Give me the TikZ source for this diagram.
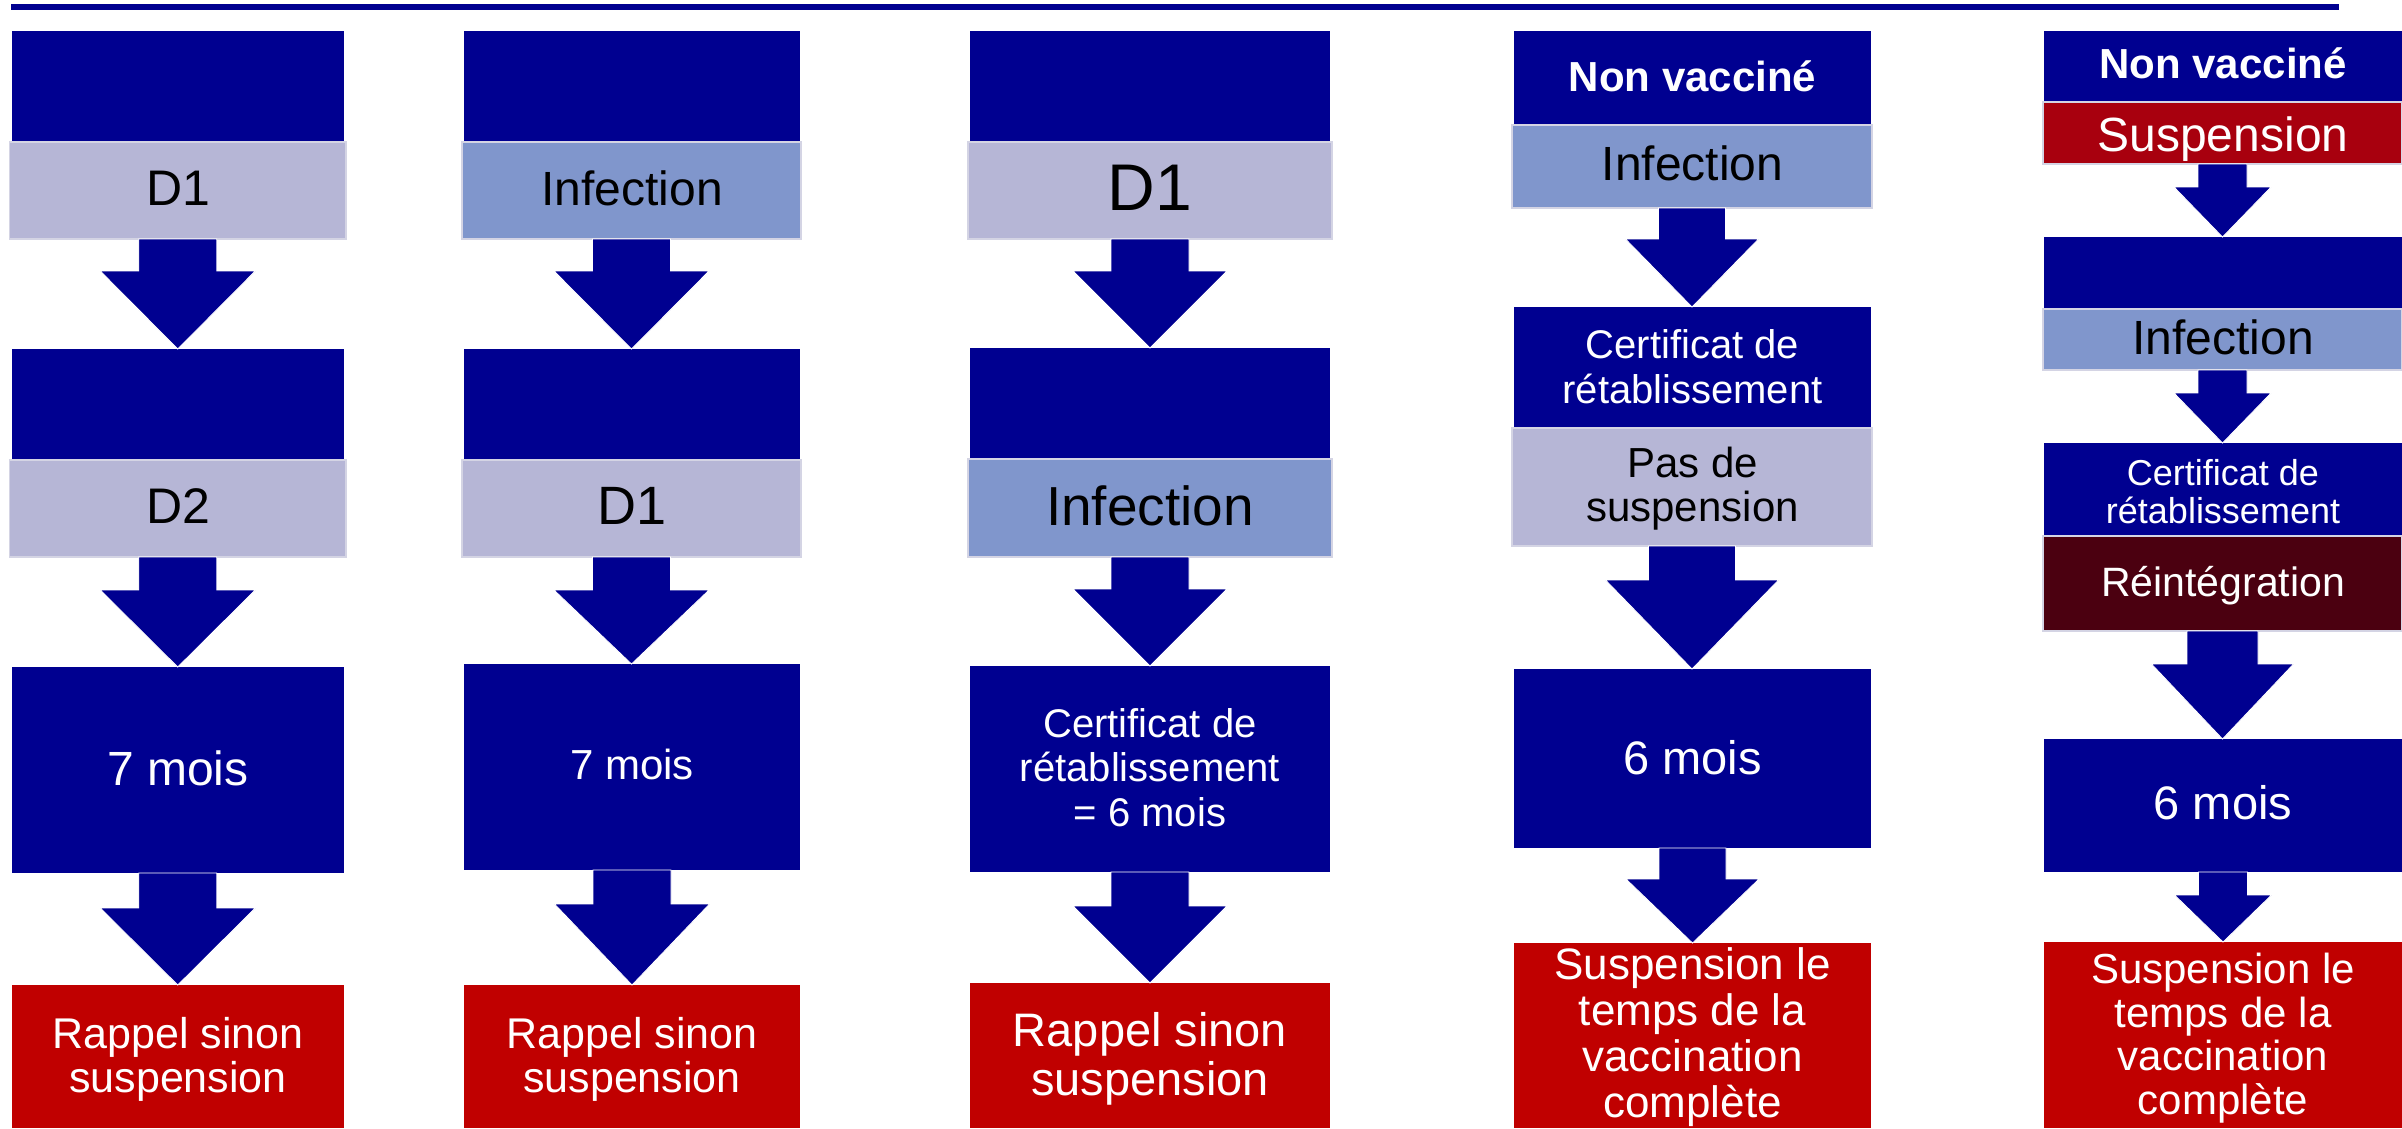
\documentclass[tikz,border=0pt]{standalone}
\usepackage{fontspec}
\setmainfont{Liberation Sans}
\usetikzlibrary{calc}
\definecolor{navy}{RGB}{0,0,144}
\definecolor{lav}{RGB}{182,182,214}
\definecolor{infb}{RGB}{128,150,204}
\definecolor{redA}{RGB}{192,0,0}
\definecolor{redB}{RGB}{168,0,14}
\definecolor{reint}{RGB}{75,0,16}
\definecolor{edgec}{RGB}{212,212,228}
\tikzset{
  dk/.style={fill=navy},
  lv/.style={fill=lav, draw=edgec, line width=1.5pt},
  inf/.style={fill=infb, draw=edgec, line width=1.5pt},
  rd/.style={fill=redA},
  rdb/.style={fill=redB, draw=edgec, line width=1.5pt},
  rei/.style={fill=reint, draw=edgec, line width=1.5pt},
  tx/.style={inner sep=0pt, outer sep=0pt, align=center},
  wt/.style={tx, text=white},
  bk/.style={tx, text=black},
  arrowfill/.style={fill=navy, draw=white, line width=0.8pt, line join=miter}
}
% box: style, name, x1, y1, x2, y2 (pixels, y downward)
\newcommand\bx[6]{\node[#1, anchor=north west, inner sep=0pt, outer sep=0pt,
  minimum width={#5-#3}, minimum height={#6-#4}] (#2) at (#3,-#4) {};}
% block arrow: from node, to node, half shaft, half head, head length
\newcommand\barr[5]{\path[arrowfill] let \p1=(#1.south), \p2=(#2.north) in
  (\x1-#3pt,\y1) -- (\x1+#3pt,\y1) -- (\x1+#3pt,\y2+#5pt) -- (\x1+#4pt,\y2+#5pt)
  -- (\x1,\y2) -- (\x1-#4pt,\y2+#5pt) -- (\x1-#3pt,\y2+#5pt) -- cycle;}
\newcommand\fs[2]{\fontsize{#1}{#2}\selectfont}
\begin{document}
\begin{tikzpicture}[x=1pt,y=1pt]
\useasboundingbox (0,0) rectangle (2402,-1128);
\fill[white] (0,0) rectangle (2402,-1128);
% top rule
\coordinate (tl) at (11,-6.5);
\coordinate (tr) at (2339,-6.5);
\draw[navy, line width=6pt] (tl) -- (tr);

% ---------- column 1 ----------
\bx{dk}{a1}{11.5}{31}{344}{141}
\bx{lv}{a2}{9.5}{142}{346}{239}
\bx{dk}{a3}{11.5}{349}{344}{459}
\bx{lv}{a4}{9.5}{460}{346}{557}
\bx{dk}{a5}{11.5}{667}{344}{873}
\bx{rd}{a6}{11.5}{985}{344}{1128}
\barr{a2}{a3}{39}{77.5}{78}
\barr{a4}{a5}{39}{77.5}{77}
\barr{a5}{a6}{39}{77.5}{77}
\node[bk, font=\fs{50}{55}, anchor=base] (ta2) at (178,-205) {D1};
\node[bk, font=\fs{50}{55}, anchor=base] (ta4) at (178,-523) {D2};
\node[wt, font=\fs{48}{53}, anchor=base] (ta5) at (178,-785) {7 mois};
\node[wt, font=\fs{43}{44}, anchor=north] (ta6) at (178,-1017.6) {Rappel sinon\\suspension};

% ---------- column 2 ----------
\bx{dk}{b1}{464}{31}{800}{141}
\bx{inf}{b2}{462}{142}{801}{239}
\bx{dk}{b3}{464}{349}{800}{459}
\bx{lv}{b4}{462}{460}{801}{557}
\bx{dk}{b5}{464}{664}{800}{870}
\bx{rd}{b6}{464}{985}{800}{1128}
\barr{b2}{b3}{39}{77.5}{78}
\barr{b4}{b5}{39}{77.5}{74}
\barr{b5}{b6}{39}{77.5}{81}
\node[bk, font=\fs{48}{53}, anchor=base] (tb2) at (632,-205) {Infection};
\node[bk, font=\fs{54}{59}, anchor=base] (tb4) at (632,-524) {D1};
\node[wt, font=\fs{42}{46}, anchor=base] (tb5) at (632,-779) {7 mois};
\node[wt, font=\fs{43}{44}, anchor=north] (tb6) at (632,-1017.6) {Rappel sinon\\suspension};

% ---------- column 3 ----------
\bx{dk}{c1}{970}{31}{1330}{141}
\bx{lv}{c2}{968}{142}{1332}{239}
\bx{dk}{c3}{970}{348}{1330}{459}
\bx{inf}{c4}{968}{459}{1332}{557}
\bx{dk}{c5}{970}{666}{1330}{872}
\bx{rd}{c6}{970}{983}{1330}{1128}
\barr{c2}{c3}{39}{77}{77}
\barr{c4}{c5}{39}{77}{77}
\barr{c5}{c6}{39}{77}{77}
\node[bk, font=\fs{66}{72}, anchor=base] (tc2) at (1150,-210) {D1};
\node[bk, font=\fs{55}{60}, anchor=base] (tc4) at (1150,-525) {Infection};
\node[wt, font=\fs{40}{44.5}, anchor=north] (tc5) at (1150,-708.3) {Certificat de\\rétablissement\\= 6 mois};
\node[wt, font=\fs{47}{49}, anchor=north] (tc6) at (1150,-1012.7) {Rappel sinon\\suspension};

% ---------- column 4 ----------
\bx{dk}{d1}{1514}{31}{1871}{124}
\bx{inf}{d2}{1512}{125}{1872}{208}
\bx{dk}{d3}{1514}{307}{1871}{428}
\bx{lv}{d4}{1512}{428}{1872}{546}
\bx{dk}{d5}{1514}{669}{1871}{848}
\bx{rd}{d6}{1514}{943}{1871}{1128}
\barr{d2}{d3}{33.5}{66.5}{68}
\barr{d4}{d5}{43.5}{86.5}{89}
\barr{d5}{d6}{33.5}{66.5}{64}
\node[wt, font=\fs{42}{46}\bfseries, anchor=base] (td1) at (1692.5,-91) {Non vacciné};
\node[bk, font=\fs{48}{53}, anchor=base] (td2) at (1692.5,-180) {Infection};
\node[wt, font=\fs{40}{45}, anchor=north] (td3) at (1692.5,-329.8) {Certificat de\\rétablissement};
\node[bk, font=\fs{42}{44}, anchor=north] (td4) at (1692.5,-447.3) {Pas de\\suspension};
\node[wt, font=\fs{47}{52}, anchor=base] (td5) at (1692.5,-774) {6 mois};
\node[wt, font=\fs{44}{46}, anchor=north] (td6) at (1692.5,-947.9) {Suspension le\\temps de la\\vaccination\\complète};

% ---------- column 5 ----------
\bx{dk}{e1}{2044}{31}{2402}{102}
\bx{rdb}{e2}{2043}{102}{2402}{164}
\bx{dk}{e3}{2044}{237}{2402}{308}
\bx{inf}{e4}{2043}{309}{2402}{370}
\bx{dk}{e5}{2044}{443}{2402}{536}
\bx{rei}{e6}{2043}{536}{2402}{631}
\bx{dk}{e7}{2044}{739}{2402}{872}
\bx{rd}{e8}{2044}{942}{2402}{1128}
\barr{e2}{e3}{24.5}{48.5}{50}
\barr{e4}{e5}{24.5}{48.5}{50}
\barr{e6}{e7}{35.5}{71}{75}
\barr{e7}{e8}{24.5}{48.5}{47}
\node[wt, font=\fs{42}{46}\bfseries, anchor=base] (te1) at (2223,-78) {Non vacciné};
\node[wt, font=\fs{48}{53}, anchor=base] (te2) at (2223,-151) {Suspension};
\node[bk, font=\fs{48}{53}, anchor=base] (te4) at (2223,-354) {Infection};
\node[wt, font=\fs{36}{37.5}, anchor=north] (te5) at (2223,-459.7) {Certificat de\\rétablissement};
\node[wt, font=\fs{41}{45}, anchor=base] (te6) at (2223,-596) {Réintégration};
\node[wt, font=\fs{47}{52}, anchor=base] (te7) at (2223,-819) {6 mois};
\node[wt, font=\fs{42}{43.5}, anchor=north] (te8) at (2223,-953.3) {Suspension le\\temps de la\\vaccination\\complète};
\end{tikzpicture}
\end{document}
